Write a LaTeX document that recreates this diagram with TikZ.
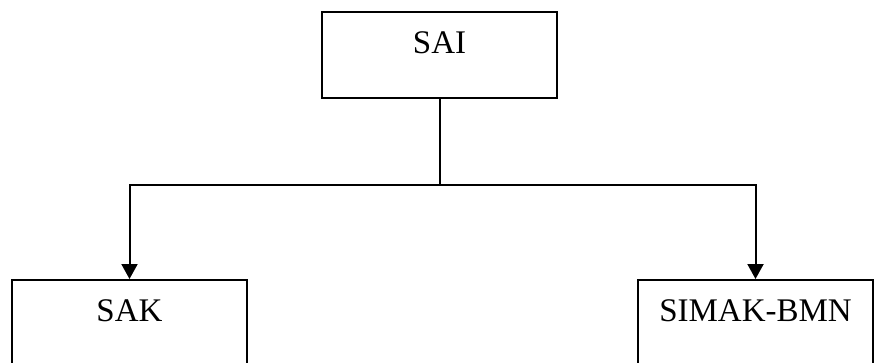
\documentclass[tikz,border=0pt]{standalone}
\usepackage{fontspec}
\setmainfont{Liberation Serif}
\usetikzlibrary{arrows.meta}
\tikzset{
  box/.style={draw, line width=2pt, minimum width=235pt, inner sep=0pt, anchor=north, font=\fontsize{33}{38}\selectfont},
  conn/.style={line width=2pt},
  arr/.style={conn, -{Triangle[length=15pt,width=16pt]}}
}
\begin{document}
\begin{tikzpicture}[x=1pt,y=-1pt]
\useasboundingbox (0,0) rectangle (874,362);
\clip (0,0) rectangle (874,362);
\node[box, text height=41pt, text depth=45pt] (sai) at (439.5,11) {SAI};
\node[box, text height=41pt, text depth=70pt] (sak) at (129.5,279) {SAK};
\node[box, text height=41pt, text depth=70pt] (simak) at (755.5,279) {SIMAK-BMN};
\coordinate (j) at (439.5,185);
\draw[conn] (sai.south) -- (j);
\draw[arr] (j) -| (sak.north);
\draw[arr] (j) -| (simak.north);
\end{tikzpicture}
\end{document}
